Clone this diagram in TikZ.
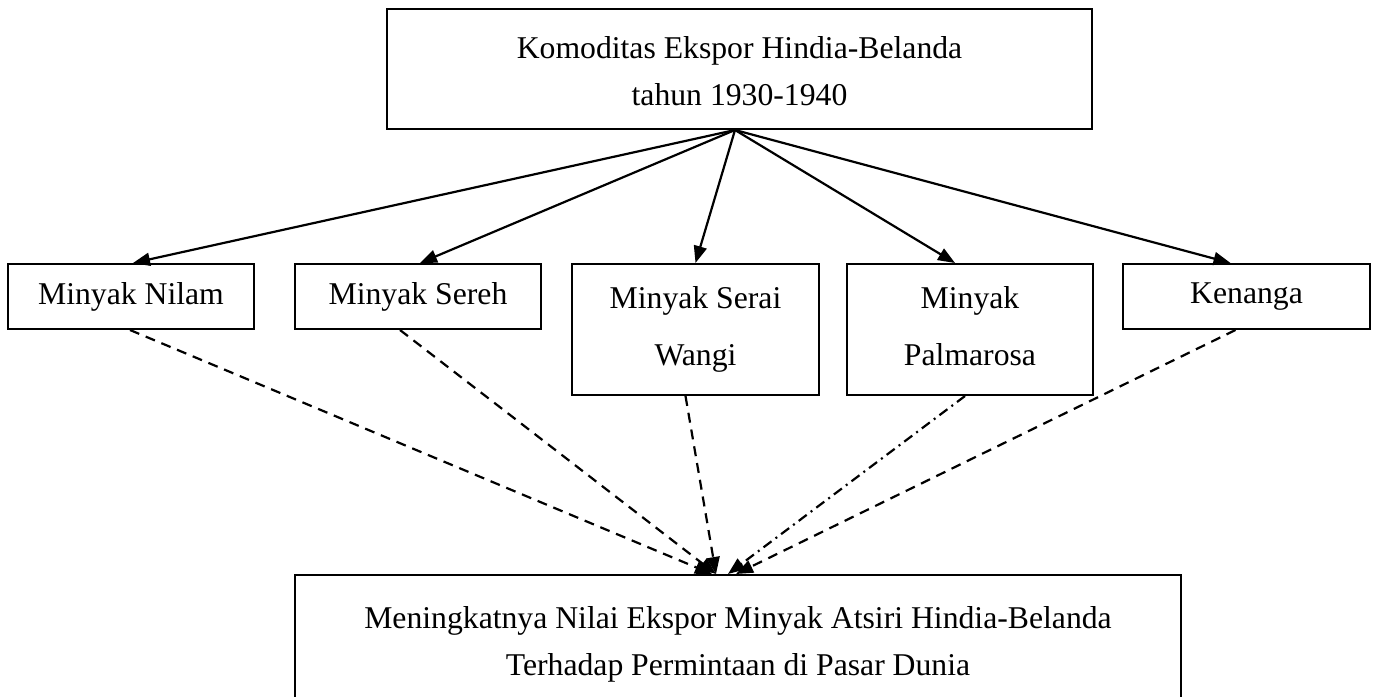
\documentclass[tikz,border=0pt]{standalone}
\usepackage{fontspec}
\setmainfont{Liberation Serif}
\usetikzlibrary{arrows.meta,calc}
\tikzset{
  boxone/.style={draw, line width=2pt, align=center, inner sep=0pt,
    font=\fontsize{31.7}{47}\selectfont},
  boxtwo/.style={boxone, font=\fontsize{31.7}{57}\selectfont},
  solidarrow/.style={line width=2.2pt, -{Triangle[length=17pt,width=13pt]}},
  dasharrow/.style={line width=2.2pt, dash pattern=on 10pt off 7pt, -{Triangle[length=17pt,width=13pt]}},
  dashdotarrow/.style={line width=2.2pt, dash pattern=on 10pt off 5pt on 2pt off 5pt, -{Triangle[length=17pt,width=13pt]}}
}
\begin{document}
\begin{tikzpicture}[x=1pt,y=-1pt]
\useasboundingbox (0,0) rectangle (1373,696);
\node[boxone, minimum width=705pt, minimum height=120pt] (top) at (739.5,69) {\rule{0pt}{26pt}Komoditas Ekspor Hindia-Belanda\\tahun 1930-1940};
\node[boxone, minimum width=246pt, minimum height=65pt] (nilam) at (131,296.5) {Minyak Nilam};
\node[boxone, minimum width=246pt, minimum height=65pt] (sereh) at (418,296.5) {Minyak Sereh};
\node[boxtwo, minimum width=247pt, minimum height=131pt] (serai) at (695.5,329.5) {Minyak Serai\\Wangi};
\node[boxtwo, minimum width=246pt, minimum height=131pt] (palma) at (970,329.5) {Minyak\\Palmarosa\vphantom{g}};
\node[boxone, minimum width=247pt, minimum height=65pt] (kenanga) at (1246.5,296.5) {Kenanga};
\node[boxone, minimum width=886pt, minimum height=138pt] (hasil) at (738,644) {Meningkatnya Nilai Ekspor Minyak Atsiri Hindia-Belanda\\Terhadap Permintaan di Pasar Dunia};

\coordinate (src) at ($(top.south)+(-4.5,0)$);
\draw[solidarrow] (src) -- ($(nilam.north)+(2,0)$);
\draw[solidarrow] (src) -- ($(sereh.north)+(2,0)$);
\draw[solidarrow] (src) -- (serai.north);
\draw[solidarrow] (src) -- ($(palma.north)+(-15,0)$);
\draw[solidarrow] (src) -- ($(kenanga.north)+(-16,0)$);

\draw[dasharrow] ($(nilam.south)+(-1,0)$) -- ($(hasil.north)+(-26,0)$);
\draw[dasharrow] ($(sereh.south)+(-18,0)$) -- ($(hasil.north)+(-22,0)$);
\draw[dasharrow] ($(serai.south)+(-10,0)$) -- ($(hasil.north)+(-22,0)$);
\draw[dashdotarrow] ($(palma.south)+(-5,0)$) -- ($(hasil.north)+(-10,0)$);
\draw[dasharrow] ($(kenanga.south)+(-11,0)$) -- ($(hasil.north)+(-2,0)$);
\end{tikzpicture}
\end{document}
